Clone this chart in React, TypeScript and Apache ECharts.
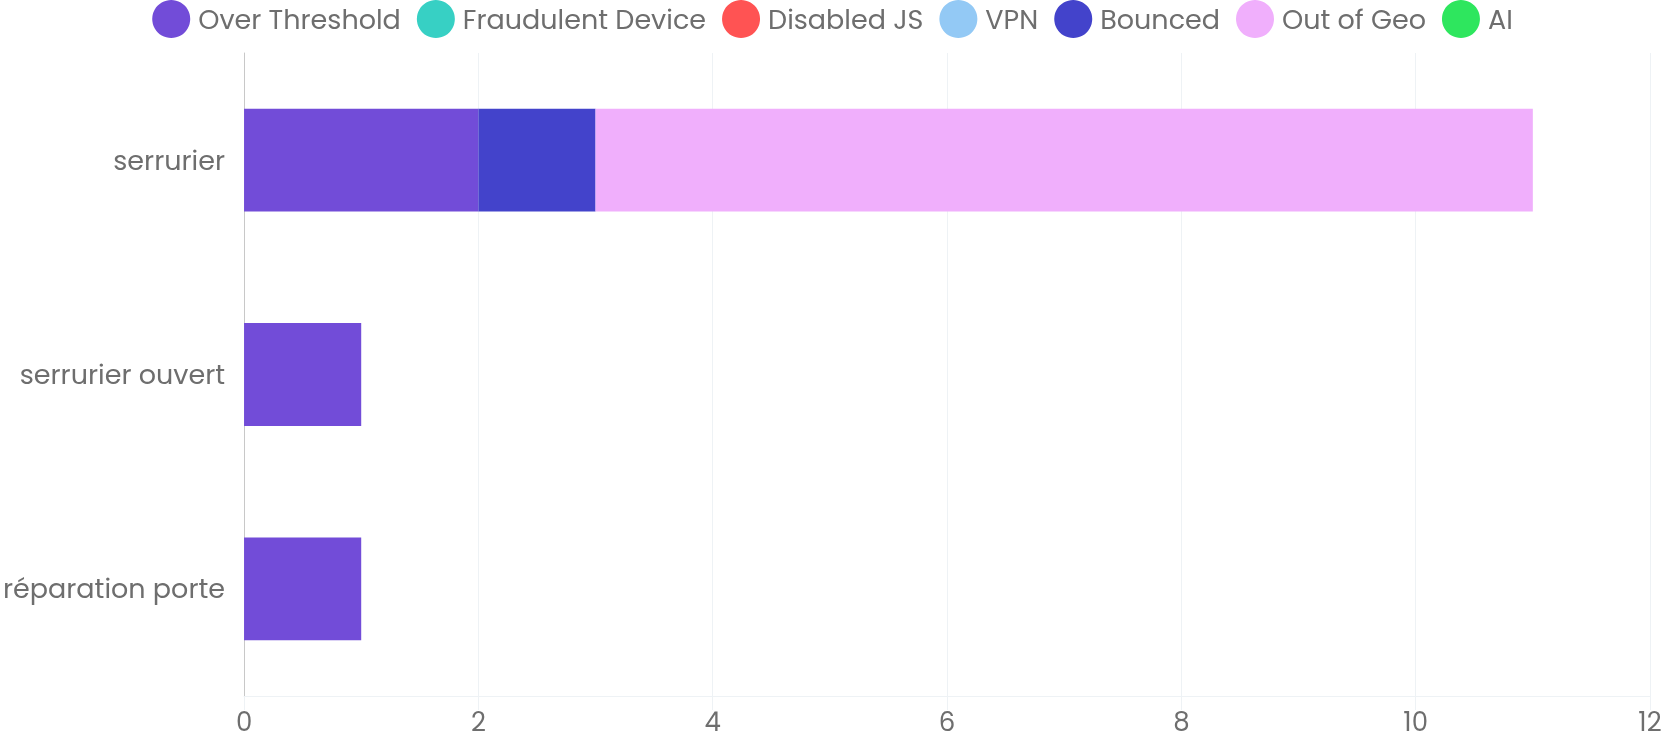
import React, { useEffect, useRef } from "react";
import * as echarts from "echarts";

const categories = ["serrurier", "serrurier ouvert", "réparation porte"];
const seriesNames = ["Over Threshold", "Fraudulent Device", "Disabled JS", "VPN", "Bounced", "Out of Geo", "AI"];
const seriesColors = ["#724cd8", "#37d0c4", "#ff5353", "#93c9f5", "#4343cb", "#f0affc", "#2ee65e"];
const overThreshold = [2, 1, 1];
const fraudulentDevice = [0, 0, 0];
const disabledJS = [0, 0, 0];
const vpn = [0, 0, 0];
const bounced = [1, 0, 0];
const outOfGeo = [8, 0, 0];
const ai = [0, 0, 0];
const xTicks = [0, 2, 4, 6, 8, 10, 12];

const seriesData = [overThreshold, fraudulentDevice, disabledJS, vpn, bounced, outOfGeo, ai];

export default function App() {
  const ref = useRef<HTMLDivElement>(null);
  useEffect(() => {
    if (!ref.current) return;
    const chart = echarts.init(ref.current, undefined, { renderer: "svg" });
    const font = "Poppins, 'Noto Sans', sans-serif";
    chart.setOption({
      animation: false,
      textStyle: { fontFamily: font },
      legend: {
        top: 0,
        left: "center",
        padding: 0,
        icon: "circle",
        itemWidth: 38,
        itemHeight: 38,
        itemGap: 16,
        textStyle: { color: "#6e6e6e", fontSize: 27, fontFamily: font, padding: [0, 0, 0, 3] },
        data: seriesNames,
      },
      grid: { left: 244, right: 15, top: 53, bottom: 45, containLabel: false },
      xAxis: {
        type: "value",
        min: xTicks[0],
        max: xTicks[xTicks.length - 1],
        interval: 2,
        axisLine: { show: true, lineStyle: { color: "#eef2f5" } },
        axisTick: { show: true, length: 14, lineStyle: { color: "#eef2f5" } },
        splitLine: { show: true, lineStyle: { color: "#eef2f5" } },
        axisLabel: { color: "#6e6e6e", fontSize: 26, margin: 13, lineHeight: 26 },
      },
      yAxis: {
        type: "category",
        data: categories,
        inverse: true,
        axisLine: { show: true, lineStyle: { color: "#c8c8c8" } },
        axisTick: { show: false },
        axisLabel: { color: "#6e6e6e", fontSize: 27, margin: 19 },
      },
      series: seriesNames.map((name, i) => ({
        name,
        type: "bar",
        stack: "total",
        barWidth: "48%",
        itemStyle: { color: seriesColors[i] },
        data: seriesData[i],
      })),
    });
    return () => chart.dispose();
  }, []);
  return <div ref={ref} style={{ position: "fixed", left: 0, top: 0, width: 1665, height: 741 }} />;
}
